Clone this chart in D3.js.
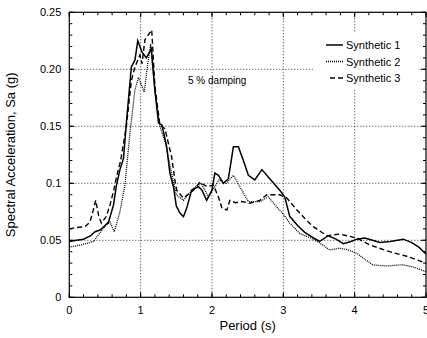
<!DOCTYPE html>
<html><head><meta charset="utf-8">
<script src="https://cdn.jsdelivr.net/npm/d3@7"></script>
<style>body{margin:0;background:#fff;} svg{display:block;font-family:"Liberation Sans",Arial,sans-serif;}</style>
</head><body>
<svg id="c" width="427" height="338"></svg>
<script>
const xTicks = [0, 1, 2, 3, 4, 5];
const yTicks = [0, 0.05, 0.1, 0.15, 0.2, 0.25];
const yTickLabels = ["0", "0.05", "0.1", "0.15", "0.20", "0.25"];
const seriesNames = ["Synthetic 1", "Synthetic 2", "Synthetic 3"];

const period1 = [0,0.1,0.2,0.3,0.36,0.43,0.5,0.55,0.62,0.66,0.71,0.76,0.8,0.87,0.92,0.96,1.02,1.08,1.15,1.2,1.25,1.3,1.365,1.41,1.46,1.5,1.55,1.6,1.645,1.715,1.81,1.86,1.925,2.0,2.04,2.09,2.16,2.23,2.30,2.37,2.44,2.51,2.6,2.70,2.81,2.95,3.02,3.09,3.2,3.3,3.4,3.51,3.63,3.74,3.84,3.95,4.03,4.14,4.25,4.35,4.5,4.68,4.8,4.9,5.0];
const sa1 = [0.049,0.050,0.051,0.054,0.0575,0.059,0.063,0.066,0.081,0.098,0.112,0.122,0.153,0.202,0.208,0.225,0.215,0.21,0.218,0.182,0.153,0.151,0.132,0.109,0.097,0.08,0.074,0.0707,0.078,0.094,0.097,0.094,0.085,0.094,0.109,0.107,0.1,0.104,0.132,0.132,0.12,0.107,0.103,0.112,0.104,0.094,0.088,0.071,0.063,0.057,0.053,0.049,0.054,0.051,0.047,0.049,0.051,0.052,0.050,0.048,0.049,0.051,0.048,0.044,0.038];

const period2 = [0,0.17,0.34,0.41,0.5,0.57,0.63,0.71,0.78,0.85,0.92,0.97,1.05,1.1,1.14,1.2,1.27,1.35,1.42,1.5,1.6,1.74,1.85,1.95,2.04,2.1,2.2,2.30,2.39,2.51,2.67,2.79,2.91,3.0,3.09,3.23,3.42,3.55,3.65,3.78,3.89,4.03,4.15,4.26,4.45,4.68,4.85,5.0];
const sa2 = [0.044,0.046,0.049,0.055,0.062,0.066,0.0575,0.075,0.0985,0.144,0.182,0.193,0.180,0.205,0.222,0.18,0.15,0.135,0.113,0.09,0.085,0.0956,0.1,0.088,0.097,0.103,0.1,0.107,0.097,0.084,0.084,0.088,0.079,0.073,0.065,0.056,0.051,0.046,0.0415,0.043,0.042,0.0386,0.033,0.0283,0.0275,0.0286,0.026,0.0225];

const period3 = [0,0.08,0.22,0.29,0.33,0.37,0.41,0.45,0.52,0.57,0.62,0.66,0.72,0.8,0.87,0.92,0.99,1.02,1.06,1.155,1.2,1.27,1.34,1.435,1.48,1.505,1.6,1.74,1.83,1.93,2.02,2.09,2.14,2.21,2.25,2.33,2.42,2.53,2.67,2.77,2.95,3.05,3.19,3.35,3.42,3.61,3.79,4.03,4.21,4.49,4.73,5.0];
const sa3 = [0.060,0.061,0.062,0.066,0.075,0.085,0.072,0.065,0.071,0.081,0.093,0.105,0.12,0.15,0.19,0.202,0.2125,0.205,0.226,0.2345,0.185,0.151,0.148,0.123,0.103,0.094,0.087,0.094,0.101,0.097,0.0985,0.088,0.078,0.0766,0.085,0.083,0.084,0.0825,0.085,0.09,0.09,0.087,0.0766,0.066,0.062,0.054,0.0555,0.052,0.046,0.040,0.036,0.030];

const svg = d3.select("#c");
const L = 69.3, R = 426, T = 12.3, B = 297.3;
const x = d3.scaleLinear().domain([0, 5]).range([L, R]);
const y = d3.scaleLinear().domain([0, 0.25]).range([B, T]);

// grid
const g = svg.append("g");
g.selectAll(".gx").data(xTicks.slice(1, -1)).join("line")
  .attr("x1", d => x(d)).attr("x2", d => x(d)).attr("y1", T).attr("y2", B)
  .attr("stroke", "#000").attr("stroke-width", 0.8).attr("stroke-dasharray", "1,2");
g.selectAll(".gy").data(yTicks.slice(1, -1)).join("line")
  .attr("y1", d => y(d)).attr("y2", d => y(d)).attr("x1", L).attr("x2", R)
  .attr("stroke", "#000").attr("stroke-width", 0.8).attr("stroke-dasharray", "1,2");

// minor ticks on all sides
const xMinor = d3.range(0, 5.0001, 0.2);
const yMinor = d3.range(0, 0.25001, 0.01);
const tk = svg.append("g").attr("stroke", "#000").attr("stroke-width", 1);
xMinor.forEach(v => {
  tk.append("line").attr("x1", x(v)).attr("x2", x(v)).attr("y1", B).attr("y2", B - 3);
  tk.append("line").attr("x1", x(v)).attr("x2", x(v)).attr("y1", T).attr("y2", T + 3);
});
yMinor.forEach(v => {
  tk.append("line").attr("y1", y(v)).attr("y2", y(v)).attr("x1", L).attr("x2", L + 3);
  tk.append("line").attr("y1", y(v)).attr("y2", y(v)).attr("x1", R).attr("x2", R - 3);
});
xTicks.forEach(v => {
  tk.append("line").attr("x1", x(v)).attr("x2", x(v)).attr("y1", B).attr("y2", B - 5);
  tk.append("line").attr("x1", x(v)).attr("x2", x(v)).attr("y1", T).attr("y2", T + 5);
});
yTicks.forEach(v => {
  tk.append("line").attr("y1", y(v)).attr("y2", y(v)).attr("x1", L).attr("x2", L + 5);
  tk.append("line").attr("y1", y(v)).attr("y2", y(v)).attr("x1", R).attr("x2", R - 5);
});

// tick labels
svg.append("g").selectAll("text").data(xTicks).join("text")
  .attr("x", d => x(d)).attr("y", B + 17).attr("text-anchor", "middle")
  .attr("font-size", 11).text(d => d);
svg.append("g").selectAll("text").data(yTicks).join("text")
  .attr("x", L - 8).attr("y", d => y(d) + 4).attr("text-anchor", "end")
  .attr("font-size", 11).text((d, i) => yTickLabels[i]);

// axis titles
svg.append("text").attr("x", (L + R) / 2).attr("y", 330).attr("text-anchor", "middle")
  .attr("font-size", 13).text("Period (s)");
svg.append("text").attr("transform", `translate(15,${(T + B) / 2}) rotate(-90)`)
  .attr("text-anchor", "middle").attr("font-size", 13).text("Spectral Acceleration, Sa (g)");

// legend background
svg.append("rect").attr("x", 313).attr("y", 33).attr("width", 105).attr("height", 56).attr("fill", "#fff");

// series
const styles = [
  {w: 1.5, dash: null},
  {w: 1.3, dash: "1,1"},
  {w: 1.4, dash: "5,3"}
];
const line = d3.line().x(d => x(d[0])).y(d => y(d[1]));
const data = [
  period1.map((p, i) => [p, sa1[i]]),
  period2.map((p, i) => [p, sa2[i]]),
  period3.map((p, i) => [p, sa3[i]])
];
data.forEach((d, i) => {
  svg.append("path").datum(d).attr("d", line).attr("fill", "none")
    .attr("stroke", "#000").attr("stroke-width", styles[i].w)
    .attr("stroke-dasharray", styles[i].dash);
});

// frame
svg.append("rect").attr("x", L).attr("y", T).attr("width", R - L).attr("height", B - T)
  .attr("fill", "none").attr("stroke", "#000").attr("stroke-width", 1.2);

// legend
const lg = svg.append("g");
seriesNames.forEach((n, i) => {
  const yy = 45 + i * 16.5;
  lg.append("line").attr("x1", i === 2 ? 330 : 326).attr("x2", 343).attr("y1", yy).attr("y2", yy)
    .attr("stroke", "#000").attr("stroke-width", styles[i].w).attr("stroke-dasharray", styles[i].dash);
  lg.append("text").attr("x", 346).attr("y", yy + 4).attr("font-size", 11).text(n);
});

svg.append("text").attr("x", 188).attr("y", 84).attr("font-size", 10).text("5 % damping");
</script>
</body></html>
